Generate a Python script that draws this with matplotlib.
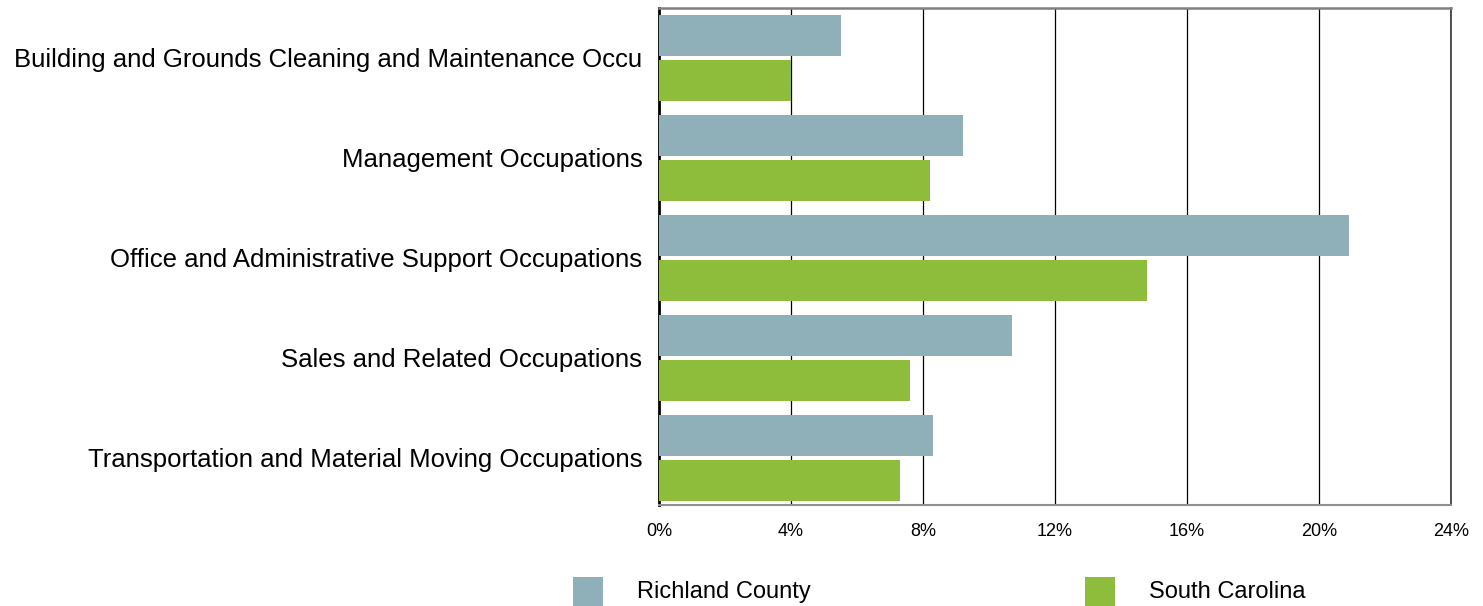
import matplotlib
matplotlib.use("Agg")
import matplotlib.pyplot as plt
from matplotlib.patches import Rectangle
import numpy as np

plt.rcParams['font.family'] = ['Liberation Sans', 'DejaVu Sans']

categories = [
    "Building and Grounds Cleaning and Maintenance Occu",
    "Management Occupations",
    "Office and Administrative Support Occupations",
    "Sales and Related Occupations",
    "Transportation and Material Moving Occupations",
]
richland = [5.5, 9.2, 20.9, 10.7, 8.3]
south_carolina = [4.0, 8.2, 14.8, 7.6, 7.3]
series_names = ["Richland County", "South Carolina"]
colors = ["#8FAFB9", "#8DBD3B"]
xticks = [0, 4, 8, 12, 16, 20, 24]
xticklabels = ["0%", "4%", "8%", "12%", "16%", "20%", "24%"]

W, H = 1483, 606
fig = plt.figure(figsize=(W/100, H/100), dpi=100)
ax = fig.add_axes([659/W, 1-505/H, (1451-659)/W, (505-8)/H])

y = np.arange(len(categories))
h = 0.41
ax.barh(y - 0.225, richland, height=h, color=colors[0], zorder=3)
ax.barh(y + 0.225, south_carolina, height=h, color=colors[1], zorder=3)

ax.set_xlim(0, 24)
ax.set_ylim(4.47, -0.5)
ax.set_xticks(xticks)
ax.set_xticklabels(xticklabels, fontsize=13)
ax.set_yticks(y)
ax.set_yticklabels(categories, fontsize=18.5)
ax.tick_params(axis='both', length=0)
ax.tick_params(axis='y', pad=12)
ax.tick_params(axis='x', pad=13)
ax.xaxis.grid(True, color='black', linewidth=0.9, zorder=0)
ax.set_axisbelow(True)

ax.spines['left'].set_color('black')
ax.spines['left'].set_linewidth(2)
ax.spines['top'].set_color('#808080')
ax.spines['top'].set_linewidth(1.8)
ax.spines['bottom'].set_color('#909090')
ax.spines['bottom'].set_linewidth(1.5)
ax.spines['right'].set_color('#333333')
ax.spines['right'].set_linewidth(1.2)

# legend (manual, figure pixel placement)
leg_x = [573, 1085]
for xs, name, c in zip(leg_x, series_names, colors):
    fig.patches.append(Rectangle((xs/W, 1-612/H), 30/W, 35/H, transform=fig.transFigure,
                                 facecolor=c, edgecolor='none'))
    fig.text((xs+64)/W, 1-592/H, name, fontsize=17, va='center', ha='left')

fig.savefig("out.png", dpi=100)
